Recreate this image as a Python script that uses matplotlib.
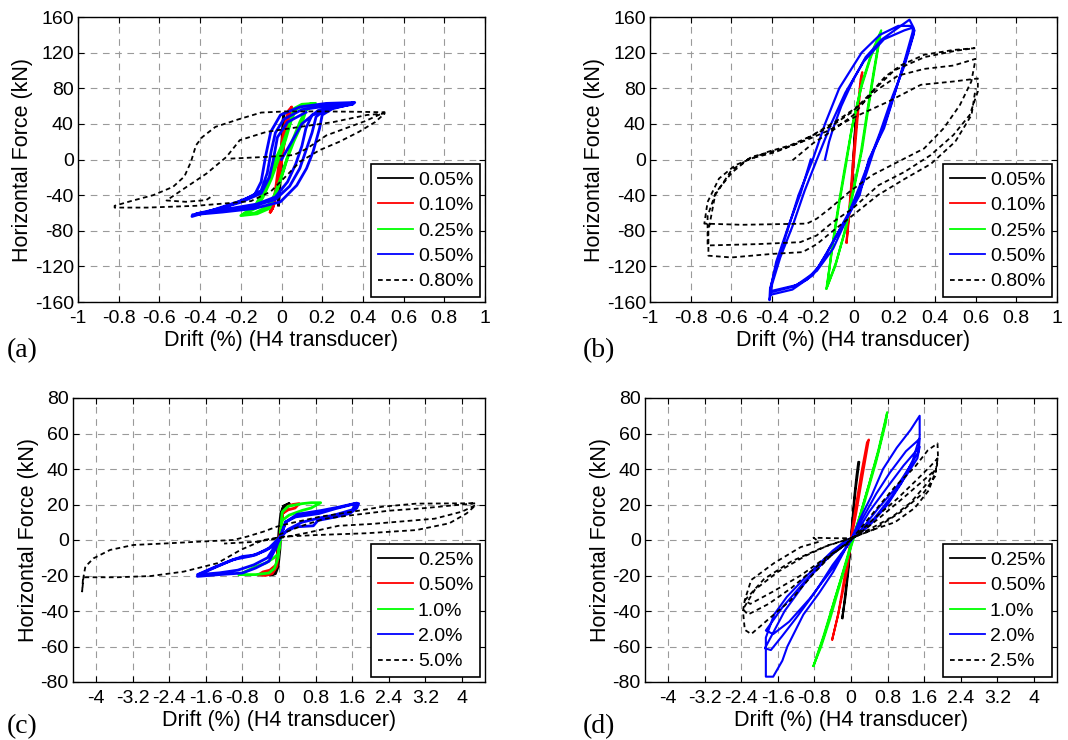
import matplotlib
matplotlib.use("Agg")
import matplotlib.pyplot as plt
from matplotlib.ticker import FixedLocator

plt.rcParams['font.family'] = ['Liberation Sans', 'DejaVu Sans']

# ---------------- Panel (a) data ----------------
a_labels = ["0.05%", "0.10%", "0.25%", "0.50%", "0.80%"]
a1_x = [-0.015, -0.008, 0.0, 0.006, 0.012, 0.008, 0.002, -0.006, -0.012, -0.015]
a1_y = [-51, -30, -5, 20, 52, 45, 20, -10, -35, -51]
a2_x = [-0.055, -0.04, -0.02, 0.0, 0.02, 0.04, 0.05, 0.035, 0.012, -0.01, -0.03, -0.045, -0.055, -0.045, -0.025, 0.0, 0.02, 0.045]
a2_y = [-59, -53, -32, 0, 30, 52, 59, 55, 35, 0, -35, -55, -59, -55, -38, -2, 28, 56]
a3_x = [0.165, 0.1, 0.06, 0.04, 0.01, -0.03, -0.06, -0.1, -0.13, -0.2, -0.12, -0.06, -0.03, 0.0, 0.027, 0.06, 0.1, 0.12, 0.165,
        0.11, 0.07, 0.045, 0.02, -0.015, -0.05, -0.09, -0.12, -0.19, -0.13, -0.07, -0.035, -0.005, 0.025, 0.055, 0.09, 0.12, 0.16]
a3_y = [63, 62, 57, 40, 20, 0, -20, -40, -52, -63, -61, -55, -40, -20, 0, 20, 40, 55, 63,
        61, 56, 42, 22, 0, -22, -42, -54, -62, -60, -53, -40, -22, 0, 22, 42, 56, 62]
a4_x = [0.0, 0.05, 0.1, 0.18, 0.3, 0.355, 0.25, 0.2, 0.187, 0.155, 0.123, 0.075, -0.005, -0.133, -0.29, -0.437,
        -0.44, -0.34, -0.213, -0.133, -0.1, -0.077, -0.053, -0.005, 0.09, 0.22, 0.36,
        0.3, 0.22, 0.17, 0.15, 0.12, 0.09, 0.04, -0.03, -0.15, -0.3, -0.42, -0.3, -0.18, -0.1, -0.07, -0.05, -0.03, 0.01, 0.1, 0.25, 0.35,
        0.25, 0.15, 0.12, 0.1, 0.07, 0.03, -0.03, -0.12, -0.25, -0.38, -0.2, -0.1, -0.06, -0.04, -0.02, 0.03, 0.12]
a4_y = [0, 20, 40, 55, 62, 63, 57, 50, 35, 8.6, -10, -29, -47.5, -55, -59, -62,
        -64, -57, -47.5, -40, -25, 5, 31, 50, 59, 63, 64,
        61, 57, 48, 30, 10, -10, -30, -45, -53, -57, -61, -55, -45, -35, -15, 10, 30, 45, 56, 61, 62,
        58, 50, 35, 15, -5, -25, -42, -50, -55, -60, -48, -38, -20, 0, 25, 42, 53]
a5_x = [-0.25, -0.07, 0.06, 0.123, 0.22, 0.315, 0.41, 0.507,
        0.4, 0.2, 0.02, -0.1, -0.213, -0.325, -0.39, -0.42, -0.445, -0.477, -0.533, -0.63, -0.74, -0.82,
        -0.82, -0.66, -0.42, -0.26, -0.15, -0.053, 0.027, 0.09, 0.187, 0.283, 0.38, 0.46, 0.507,
        0.42, 0.254, 0.09, -0.074, -0.205, -0.27, -0.368, -0.466, -0.565,
        -0.47, -0.37, -0.335]
a5_y = [1, 3, 5, 12, 27, 35, 43, 53,
        53.5, 54, 54, 52.7, 45, 36.6, 25, 16, -2.6, -19, -30.7, -40, -46.7, -52,
        -54, -54, -52, -49, -46.7, -36, -17.6, -2.6, 10.5, 19.8, 31, 42, 51.6,
        50, 42, 36.6, 31, 21.7, 3, -15.7, -30.7, -46,
        -47.5, -45.6, -40]

# ---------------- Panel (b) data ----------------
b_labels = ["0.05%", "0.10%", "0.25%", "0.50%", "0.80%"]
b1_x = [-0.013, -0.008, -0.003, 0.003, 0.008, 0.014, 0.01, 0.004, -0.002, -0.008, -0.013]
b1_y = [-51, -30, -5, 15, 35, 54, 40, 15, -10, -35, -51]
b2_x = [-0.034, -0.02, -0.005, 0.01, 0.025, 0.043, 0.035, 0.018, 0.0, -0.015, -0.028, -0.034]
b2_y = [-93, -60, -20, 20, 60, 98, 90, 50, 5, -40, -75, -93]
b3_x = [-0.133, -0.085, -0.037, 0.003, 0.043, 0.075, 0.107, 0.136, 0.091, 0.043, -0.005, -0.037, -0.069, -0.1, -0.133,
        -0.09, -0.045, -0.005, 0.035, 0.068, 0.1, 0.13, 0.085, 0.037, -0.01, -0.045, -0.075, -0.105, -0.128]
b3_y = [-145, -115, -77, -32, 12, 61, 106, 145, 121, 87, 39, -6, -48, -93, -145,
        -120, -82, -38, 6, 55, 100, 140, 115, 80, 33, -12, -53, -98, -140]
b4_x = [-0.14, -0.12, -0.1, -0.06, 0.0, 0.06, 0.14, 0.22, 0.275, 0.296, 0.25, 0.2, 0.15, 0.075, 0.03, -0.03, -0.07, -0.12, -0.17, -0.23, -0.3, -0.405,
        -0.413, -0.41, -0.38, -0.325, -0.27, -0.2, -0.14, -0.07, 0.04, 0.13, 0.22, 0.28,
        0.3, 0.26, 0.21, 0.16, 0.1, 0.05, 0.0, -0.06, -0.13, -0.2, -0.3, -0.41,
        -0.4, -0.36, -0.3, -0.24, -0.18, -0.11, -0.04, 0.05, 0.15, 0.25, 0.29,
        0.295, 0.25, 0.19, 0.13, 0.08, 0.03, -0.04, -0.1, -0.18, -0.28, -0.41,
        -0.38, -0.32, -0.26, -0.21]
b4_y = [0, 20, 35, 60, 90, 115, 135, 148, 157, 147.6, 110, 72, 35, 0, -40, -65, -80, -100, -120, -135, -143, -149,
        -158, -145, -120, -80, -40, 0, 40, 80, 120, 140, 150, 150,
        145, 115, 80, 45, 10, -25, -50, -75, -105, -130, -146, -152,
        -140, -110, -75, -35, 0, 40, 75, 110, 135, 145, 148,
        140, 105, 70, 30, 0, -30, -70, -100, -125, -141, -148,
        -115, -75, -38, 0]
b5_x = [-0.3, -0.2, -0.1, 0.0, 0.1, 0.2, 0.35, 0.5, 0.595,
        0.491, 0.347, 0.235, 0.155, 0.091, -0.005, -0.101, -0.197, -0.309, -0.421, -0.501, -0.581, -0.661, -0.717, -0.733,
        -0.549, -0.229, -0.181, -0.117, -0.021, 0.091, 0.219, 0.347, 0.443, 0.523, 0.579, 0.6,
        0.491, 0.347, 0.219, 0.123, 0.027, -0.069, -0.165, -0.261, -0.389, -0.517, -0.597, -0.677, -0.717, -0.717,
        -0.469, -0.261, -0.181, -0.101, -0.005, 0.123, 0.251, 0.379, 0.491, 0.571, 0.611, 0.611,
        0.491, 0.331, 0.171, 0.027, -0.133, -0.229, -0.35, -0.5, -0.6, -0.68, -0.713, -0.713,
        -0.6, -0.4, -0.25, -0.18, -0.1, 0.0, 0.12, 0.25, 0.38, 0.5, 0.58, 0.6]
b5_y = [-1, 18, 33, 50, 78, 100, 115, 122, 125,
        123, 117.6, 106, 93, 76, 53.7, 38.7, 27.5, 16.1, 8.6, 1.1, -6.4, -21.4, -47.7, -72,
        -73.3, -72, -66.5, -55.2, -36.4, -17.6, -2.6, 12.4, 35, 61.2, 87.6, 113,
        105.5, 101.7, 94.2, 79.2, 60.5, 45.4, 32.3, 19.2, 7.9, 0.4, -14.6, -37.2, -63.5, -96.5,
        -95, -92.8, -85.3, -70.2, -55.2, -28.9, -13.9, 4.9, 27.5, 50, 76.3, 91,
        87.6, 83.9, 65, 50, 31.5, 22, 12, 3, -12, -40, -80, -108,
        -110, -106, -104, -95, -80, -62, -40, -22, -5, 20, 50, 80]

# ---------------- Panel (c) data ----------------
c_labels = ["0.25%", "0.50%", "1.0%", "2.0%", "5.0%"]
c1_x = [-0.18, -0.08, -0.02, 0.02, 0.04, 0.06, 0.1, 0.22, 0.1, 0.04, 0.0, -0.03, -0.05, -0.1, -0.18]
c1_y = [-19.5, -19, -15, -5, 5, 15, 19, 20.5, 19, 15, 5, -5, -15, -19, -19.5]
c2_x = [-0.44, -0.3, -0.15, -0.05, 0.0, 0.04, 0.08, 0.2, 0.3, 0.44, 0.35, 0.2, 0.08, 0.03, -0.02, -0.06, -0.2, -0.35, -0.44]
c2_y = [-19.5, -20, -19, -15, -5, 5, 15, 19, 20, 20.5, 18, 17, 15, 5, -5, -14, -17, -18, -19.5]
c3_x = [-0.87, -0.51, -0.22, -0.1, -0.02, 0.02, 0.07, 0.2, 0.51, 0.7, 0.91, 0.7, 0.51, 0.22, 0.07, 0.03, -0.02, -0.11, -0.29, -0.51, -0.87]
c3_y = [-19.5, -19.5, -18.6, -16, -10, 0, 15.8, 19, 20.5, 21, 21, 18, 16.7, 14, 11, 0, -8, -10, -13, -15, -19.5]
c4_x = [0.0, 0.07, 0.145, 0.36, 0.87, 1.24, 1.67, 1.74,
        1.7, 1.55, 1.24, 0.85, 0.75, 0.36, 0.145, 0.0, -0.22, -0.51, -0.8, -1.09, -1.38, -1.78,
        -1.78, -1.31, -0.8, -0.51, -0.22, -0.07, 0.07, 0.145, 0.4, 0.9, 1.3, 1.7,
        1.6, 1.2, 0.9, 0.5, 0.2, 0.05, -0.1, -0.3, -0.6, -1.0, -1.4, -1.75,
        -1.3, -0.9, -0.55, -0.25, -0.1, 0.0]
c4_y = [0, 4.6, 10.2, 13, 14.9, 17.7, 20.5, 20.5,
        18, 15, 13, 11, 8, 7.4, 4.6, 1, -4.6, -8.4, -9.3, -12, -15, -19.5,
        -20.5, -19.5, -18.6, -15.8, -12, -4.6, 4.6, 10, 14.5, 16.5, 18.5, 20.8,
        17, 14, 12.5, 10, 6, 2, -3, -6, -9, -11, -15.5, -19.5,
        -18.5, -17, -14, -10, -4, 0]
c5_x = [0.0, 0.5, 1.0, 1.6, 2.4, 3.2, 3.8, 4.3,
        3.0, 2.27, 1.62, 0.89, 0.24, -0.05, -0.34, -0.7, -1.0, -1.72, -2.45, -3.18, -3.69, -4.05, -4.23, -4.27, -4.3, -4.28,
        -3.54, -2.8, -2.08, -1.35, -0.84, -0.34, 0.1, 0.82, 1.91, 3.0, 3.72, 4.1, 4.3,
        4.0, 3.4, 2.7, 2.0, 1.3, 0.6, 0.0, -0.5, -1.2]
c5_y = [3, 8, 12, 14, 16.5, 18, 19.5, 20.7,
        20.5, 18.8, 16, 13.1, 9.4, 7.5, 4.7, 1.9, 0, -0.9, -1.9, -2.8, -5.6, -10.3, -15, -20.7, -29, -21,
        -21, -20.3, -17.8, -13.1, -5.6, 0, 1.9, 2.8, 3.8, 5.6, 9.4, 15, 19.7,
        16, 12, 10.5, 9, 8, 4, 1, -1, -2]

# ---------------- Panel (d) data ----------------
d_labels = ["0.25%", "0.50%", "1.0%", "2.0%", "2.5%"]
d1_x = [-0.19, -0.12, -0.06, 0.0, 0.05, 0.1, 0.15, 0.18, 0.16, 0.12, 0.07, 0.02, -0.03, -0.09, -0.15, -0.19]
d1_y = [-44, -32, -18, 0, 15, 28, 38, 44, 44, 36, 24, 8, -8, -22, -36, -44]
d2_x = [-0.41, -0.3, -0.2, -0.08, 0.02, 0.12, 0.25, 0.39, 0.35, 0.22, 0.08, -0.02, -0.15, -0.28, -0.41]
d2_y = [-56, -44, -32, -16, 2, 16, 36, 56.6, 55, 37, 15, -2, -22, -42, -56]
d3_x = [-0.82, -0.6, -0.4, -0.2, 0.0, 0.2, 0.4, 0.6, 0.79, 0.76, 0.55, 0.35, 0.15, -0.05, -0.25, -0.45, -0.65, -0.82,
        -0.6, -0.35, -0.1, 0.15, 0.4, 0.6, 0.78]
d3_y = [-71, -54, -37, -20, -2, 14, 32, 51, 72, 66, 44, 26, 8, -8, -26, -44, -60, -71,
        -55, -33, -12, 10, 32, 50, 70]
d4_x = [0.0, 0.2, 0.45, 0.7, 1.0, 1.3, 1.5, 1.5, 1.35, 1.1, 0.8, 0.4, 0.1, -0.1, -0.4, -0.96, -1.4, -1.68, -1.86, -1.86,
        -1.7, -1.5, -1.39, -1.04, -0.7, -0.39, -0.1, 0.0,
        0.25, 0.55, 0.85, 1.2, 1.5, 1.48, 1.3, 1.0, 0.6, 0.2, -0.2, -0.6, -1.0, -1.45, -1.88,
        -1.75, -1.5, -1.2, -0.8, -0.4, 0.1,
        0.4, 0.8, 1.15, 1.5, 1.45, 1.2, 0.9, 0.5, 0.0, -0.5, -1.0, -1.5, -1.86,
        -1.7, -1.35, -0.9, -0.4, 0.0]
d4_y = [0, 12, 25, 40, 52, 62, 70, 58, 45, 32, 20, 8, 2, 0, -6, -20, -32, -42, -55, -77,
        -77, -68, -60, -42, -30, -18, -4, 0,
        12, 26, 38, 50, 57, 50, 42, 30, 18, 5, -3, -12, -24, -40, -61,
        -62, -54, -44, -30, -14, 3,
        16, 30, 42, 52.5, 46, 36, 25, 12, 0, -10, -23, -38, -51,
        -53, -46, -33, -16, 0]
d5_x = [0.0, 0.54, 0.96, 1.39, 1.68, 1.89, 1.9, 1.85, 1.7, 1.39, 0.96, 0.46, 0.0, -0.4, -0.82,
        -0.7, -1.1, -1.68, -2.18, -2.32, -2.36, -2.32, -2.18, -1.82, -1.32, -0.82, -0.39, 0.0,
        0.5, 1.0, 1.4, 1.75, 1.89, 1.88, 1.7, 1.3, 0.9, 0.4, 0.0, -0.5, -1.0, -1.6, -2.1, -2.36,
        -2.25, -1.8, -1.3, -0.8, -0.3, 0.0,
        0.6, 1.2, 1.6, 1.86, 1.84, 1.6, 1.1, 0.5, 0.0, -0.6, -1.3, -1.9, -2.32,
        -2.2, -1.7, -1.1, -0.5, 0.0]
d5_y = [0, 17, 30, 41, 50.6, 54.4, 47, 39, 28, 18, 10, 5.6, 1, 1, 1.3,
        -1, -4, -13, -22.5, -33.8, -40, -50.6, -53, -45, -34, -19, -7.5, 0,
        12, 23, 33, 42, 46, 42, 33, 21, 13, 6, 1, -3, -9, -18, -28, -39,
        -42, -36, -27, -16, -6, 0,
        12, 25, 34, 40, 36, 27, 16, 6, 1, -4, -12, -22, -34,
        -36, -29, -20, -9, -1]

# ---------------- axes tick definitions ----------------
ab_xticks = [-1, -0.8, -0.6, -0.4, -0.2, 0, 0.2, 0.4, 0.6, 0.8, 1]
ab_xticklabels = ["-1", "-0.8", "-0.6", "-0.4", "-0.2", "0", "0.2", "0.4", "0.6", "0.8", "1"]
ab_yticks = [-160, -120, -80, -40, 0, 40, 80, 120, 160]
cd_xticks = [-4, -3.2, -2.4, -1.6, -0.8, 0, 0.8, 1.6, 2.4, 3.2, 4]
cd_xticklabels = ["-4", "-3.2", "-2.4", "-1.6", "-0.8", "0", "0.8", "1.6", "2.4", "3.2", "4"]
cd_yticks = [-80, -60, -40, -20, 0, 20, 40, 60, 80]

series_colors = ["black", "#ff0000", "#00ff00", "#0000ff", "black"]
DASH = (0, (2.6, 1.9))

W, H = 1068, 740
fig = plt.figure(figsize=(W / 100, H / 100), dpi=100)


def make_axes(l, t, r, b):
    return fig.add_axes([l / W, 1 - b / H, (r - l) / W, (b - t) / H])


def style(ax, xticks, xlabels, yticks, xlim, ylim):
    ax.set_xlim(*xlim)
    ax.set_ylim(*ylim)
    ax.xaxis.set_major_locator(FixedLocator(xticks))
    ax.set_xticklabels(xlabels)
    ax.yaxis.set_major_locator(FixedLocator(yticks))
    ax.set_yticklabels([str(v) for v in yticks])
    ax.tick_params(direction='in', length=4, width=0.8, top=True, right=True,
                   labelsize=14, pad=3, colors='black')
    ax.tick_params(axis='x', pad=6)
    ax.grid(True, color='#9a9a9a', linestyle=(0, (6, 5)), linewidth=0.8)
    ax.set_axisbelow(True)
    for s in ax.spines.values():
        s.set_linewidth(1.0)
        s.set_color('black')
    ax.set_xlabel("Drift (%) (H4 transducer)", fontsize=15.5, labelpad=2)
    ax.set_ylabel("Horizontal Force (kN)", fontsize=15.5, labelpad=1)


def draw(ax, xs, ys, labels, lw):
    for i, (x, y) in enumerate(zip(xs, ys)):
        if i == 4:
            ax.plot(x, y, color='black', linestyle=DASH, linewidth=1.3, label=labels[i])
        else:
            ax.plot(x, y, color=series_colors[i], linewidth=lw, label=labels[i])
    leg = ax.legend(loc='lower right', fontsize=14, frameon=True, fancybox=False,
                    framealpha=1, edgecolor='black', borderaxespad=0.25,
                    handlelength=1.8, handletextpad=0.25, labelspacing=0.4, borderpad=0.35)
    leg.get_frame().set_linewidth(1.2)
    for lh in leg.get_lines():
        lh.set_linewidth(1.3)


ax_a = make_axes(78, 17, 485, 302)
style(ax_a, ab_xticks, ab_xticklabels, ab_yticks, (-1, 1), (-160, 160))
draw(ax_a, [a1_x, a2_x, a3_x, a4_x, a5_x], [a1_y, a2_y, a3_y, a4_y, a5_y], a_labels, 2.0)

ax_b = make_axes(650, 17, 1057, 302)
style(ax_b, ab_xticks, ab_xticklabels, ab_yticks, (-1, 1), (-160, 160))
draw(ax_b, [b1_x, b2_x, b3_x, b4_x, b5_x], [b1_y, b2_y, b3_y, b4_y, b5_y], b_labels, 1.6)

ax_c = make_axes(73, 398, 485, 682)
style(ax_c, cd_xticks, cd_xticklabels, cd_yticks, (-4.5, 4.5), (-80, 80))
draw(ax_c, [c1_x, c2_x, c3_x, c4_x, c5_x], [c1_y, c2_y, c3_y, c4_y, c5_y], c_labels, 2.0)

ax_d = make_axes(645, 398, 1057, 682)
style(ax_d, cd_xticks, cd_xticklabels, cd_yticks, (-4.5, 4.5), (-80, 80))
draw(ax_d, [d1_x, d2_x, d3_x, d4_x, d5_x], [d1_y, d2_y, d3_y, d4_y, d5_y], d_labels, 1.5)

for txt, x, y in [("(a)", 7, 351), ("(b)", 583, 351), ("(c)", 7, 727), ("(d)", 583, 727)]:
    fig.text(x / W, 1 - y / H, txt, family=['Liberation Serif', 'DejaVu Serif'],
             fontsize=20, va='center', ha='left')

fig.savefig("out.png", dpi=100)
